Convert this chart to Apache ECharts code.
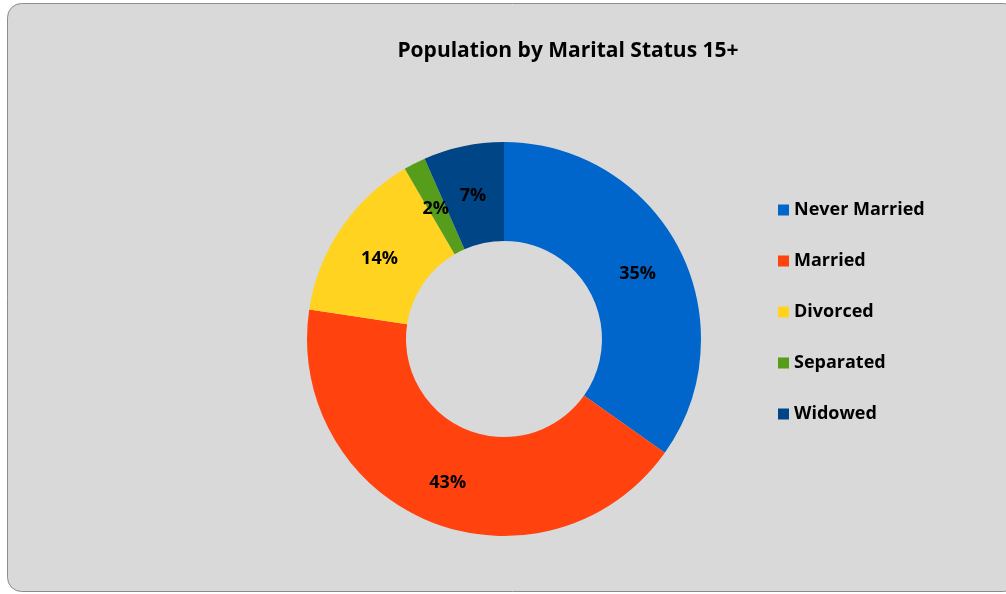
<!DOCTYPE html>
<html>
<head>
<meta charset="utf-8">
<script src="https://cdn.jsdelivr.net/npm/echarts@6/dist/echarts.min.js"></script>
<style>
  html, body { margin: 0; padding: 0; background: #ffffff; }
  #chart { width: 1006px; height: 594px; }
</style>
</head>
<body>
<div id="chart"></div>
<script>
// 数据
var categories = ['Never Married', 'Married', 'Divorced', 'Separated', 'Widowed'];
var shares = [34.8, 42.6, 14.2, 1.8, 6.6];
var colors = ['#0066cc', '#ff420e', '#ffd320', '#579d1c', '#004586'];

var chartDom = document.getElementById('chart');
var myChart = echarts.init(chartDom);

var pieData = categories.map(function (name, i) {
  return { name: name, value: shares[i], itemStyle: { color: colors[i] } };
});

var option = {
  backgroundColor: '#ffffff',
  textStyle: { fontFamily: 'Open Sans' },
  graphic: {
    elements: [
      {
        type: 'rect',
        z: -10,
        shape: { x: 7.5, y: 3.5, width: 1010, height: 588, r: 14 },
        style: { fill: '#d9d9d9', stroke: '#8c8c8c', lineWidth: 1 }
      }
    ]
  },
  title: {
    text: 'Population by Marital Status 15+',
    left: 563,
    top: 36,
    textAlign: 'center',
    textStyle: {
      fontFamily: 'Open Sans',
      fontSize: 21,
      fontWeight: 'bold',
      color: '#000000'
    }
  },
  legend: {
    orient: 'vertical',
    left: 773,
    top: 196,
    icon: 'rect',
    itemWidth: 11,
    itemHeight: 11,
    itemGap: 33,
    data: categories,
    textStyle: {
      fontFamily: 'Open Sans',
      fontSize: 18,
      fontWeight: 'bold',
      color: '#000000'
    }
  },
  series: [
    {
      type: 'pie',
      center: [504, 339],
      radius: [98, 197],
      startAngle: 90,
      clockwise: true,
      avoidLabelOverlap: false,
      silent: true,
      label: {
        show: true,
        position: 'inside',
        formatter: function (p) { return '{v|' + Math.round(p.value) + '%}'; },
        rich: {
          v: {
            fontFamily: 'Open Sans',
            fontSize: 18,
            fontWeight: 'bold',
            color: '#000000',
            padding: [8, 0, 0, 0]
          }
        }
      },
      labelLine: { show: false },
      data: pieData
    }
  ]
};

myChart.setOption(option);
</script>
</body>
</html>
